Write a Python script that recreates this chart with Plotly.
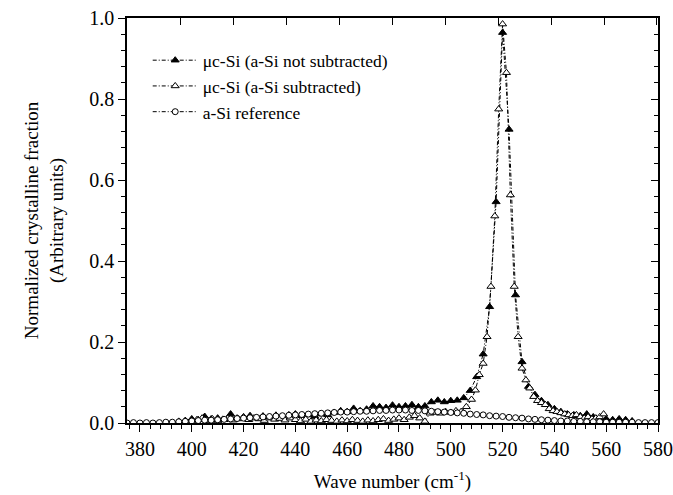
import plotly.graph_objects as go

# ---------------- data ----------------
# mu c-Si (a-Si not subtracted) : filled triangles
x_ns = [395, 397.5, 400, 402.5, 405, 407.5, 410, 412.5, 415, 417.5,
        420, 422.5, 425, 427.5, 430, 432.5, 435, 437.5, 440, 442.5,
        445, 447.5, 450, 452.5, 455, 457.5, 460, 462.5, 465, 467.5,
        470, 472.5, 475, 477.5, 480, 482.5, 485, 487.5, 490, 492.5,
        495, 497.5, 500, 502.5, 505, 507.5, 510, 512.5, 515, 517.5,
        520, 522.5, 525, 527.5, 530, 532.5, 535, 537.5, 540, 542.5,
        545, 547.5, 550, 552.5, 555, 557.5, 560, 562.5, 565, 567.5, 570]
y_ns = [0.004, 0.006, 0.010, 0.008, 0.016, 0.010, 0.012, 0.008, 0.022, 0.012,
        0.015, 0.018, 0.013, 0.017, 0.014, 0.019, 0.016, 0.020, 0.022, 0.018,
        0.020, 0.016, 0.022, 0.020, 0.026, 0.030, 0.028, 0.036, 0.030, 0.034,
        0.042, 0.040, 0.038, 0.044, 0.040, 0.042, 0.045, 0.040, 0.042, 0.052,
        0.056, 0.052, 0.055, 0.056, 0.062, 0.080, 0.114, 0.170, 0.287, 0.546,
        0.964, 0.725, 0.316, 0.151, 0.090, 0.070, 0.055, 0.045, 0.035, 0.028,
        0.022, 0.020, 0.018, 0.022, 0.015, 0.012, 0.010, 0.008, 0.010, 0.008, 0.005]

# mu c-Si (a-Si subtracted) : open triangles
x_s = [400, 402, 404, 406, 408, 410, 412, 414, 416, 418,
       420, 422, 424, 426, 428, 430, 432, 434, 436, 438,
       440, 442, 444, 446, 448, 450, 452, 454, 456, 458,
       460, 462, 464, 466, 468, 470, 472, 474, 476, 478,
       480, 482, 484, 486, 488, 490, 492, 494, 496, 498,
       500, 502, 504, 506, 508, 509.5, 511, 512.5, 514, 515.5,
       517, 518.5, 520, 521.5, 523, 524.5, 526, 527.5, 529, 530.5,
       532, 533.5, 535, 536.5, 538, 539.5, 541, 542.5, 544, 545.5,
       547, 548.5, 550, 551.5, 553, 554.5, 556, 557.5, 559]
y_s = [0.004, 0.008, 0.012, 0.006, 0.010, 0.005, 0.009, 0.012, 0.007, 0.010,
       0.014, 0.008, 0.012, 0.010, 0.006, 0.012, 0.009, 0.011, 0.007, 0.012,
       0.008, 0.005, 0.009, 0.004, 0.007, 0.005, 0.008, 0.006, 0.004, 0.007,
       0.005, 0.008, 0.006, 0.004, 0.007, 0.005, 0.008, 0.010, 0.006, 0.009,
       0.012, 0.008, 0.014, 0.018, 0.012, 0.004, 0.024, 0.026, 0.024, 0.028,
       0.026, 0.030, 0.028, 0.040, 0.058, 0.081, 0.119, 0.147, 0.213, 0.337,
       0.511, 0.775, 0.985, 0.865, 0.563, 0.337, 0.213, 0.135, 0.106, 0.086,
       0.065, 0.055, 0.050, 0.045, 0.035, 0.030, 0.028, 0.025, 0.022, 0.020,
       0.018, 0.020, 0.015, 0.012, 0.015, 0.010, 0.012, 0.015, 0.022]

# a-Si reference : open circles
x_ref = [375, 377.5, 380, 382.5, 385, 387.5, 390, 392.5, 395, 397.5,
         400, 402.5, 405, 407.5, 410, 412.5, 415, 417.5, 420, 422.5,
         425, 427.5, 430, 432.5, 435, 437.5, 440, 442.5, 445, 447.5,
         450, 452.5, 455, 457.5, 460, 462.5, 465, 467.5, 470, 472.5,
         475, 477.5, 480, 482.5, 485, 487.5, 490, 492.5, 495, 497.5,
         500, 502.5, 505, 507.5, 510, 512.5, 515, 517.5, 520, 522.5,
         525, 527.5, 530, 532.5, 535, 537.5, 540, 542.5, 545, 547.5,
         550, 552.5, 555, 557.5, 560, 562.5, 565, 567.5, 570, 572.5,
         575, 577.5, 580]
y_ref = [0.000, 0.001, 0.000, 0.001, 0.000, 0.001, 0.002, 0.002, 0.003, 0.004,
         0.005, 0.006, 0.007, 0.007, 0.008, 0.009, 0.010, 0.011, 0.012, 0.013,
         0.014, 0.015, 0.016, 0.017, 0.018, 0.019, 0.020, 0.021, 0.022, 0.023,
         0.024, 0.025, 0.026, 0.027, 0.027, 0.028, 0.029, 0.029, 0.030, 0.031,
         0.031, 0.032, 0.032, 0.032, 0.031, 0.031, 0.030, 0.029, 0.028, 0.027,
         0.026, 0.025, 0.024, 0.022, 0.021, 0.020, 0.018, 0.017, 0.016, 0.014,
         0.013, 0.012, 0.010, 0.009, 0.008, 0.007, 0.006, 0.005, 0.005, 0.004,
         0.004, 0.003, 0.003, 0.003, 0.002, 0.002, 0.002, 0.002, 0.002, 0.001,
         0.001, 0.001, 0.001]

names = ["\u03bcc-Si (a-Si not subtracted)",
         "\u03bcc-Si (a-Si subtracted)",
         "a-Si reference"]

x_ticks = [380, 400, 420, 440, 460, 480, 500, 520, 540, 560, 580]
y_ticks = [0.0, 0.2, 0.4, 0.6, 0.8, 1.0]

FONT = "Liberation Serif"
line_style = dict(color="black", width=1, dash="4px,2px,1px,2px")

fig = go.Figure()
fig.add_trace(go.Scatter(
    x=x_ns, y=y_ns, name=names[0], mode="lines+markers", line=line_style,
    marker=dict(symbol="triangle-up", size=7, color="black",
                line=dict(color="black", width=1))))
fig.add_trace(go.Scatter(
    x=x_s, y=y_s, name=names[1], mode="lines+markers", line=line_style,
    marker=dict(symbol="triangle-up", size=7, color="white",
                line=dict(color="black", width=1))))
fig.add_trace(go.Scatter(
    x=x_ref, y=y_ref, name=names[2], mode="lines+markers", line=line_style,
    marker=dict(symbol="circle", size=6, color="white",
                line=dict(color="black", width=1))))
# helper trace so the top/right (inside) tick axes are drawn
fig.add_trace(go.Scatter(x=[None], y=[None], xaxis="x2", yaxis="y2",
                         showlegend=False, hoverinfo="skip"))

axis_common = dict(showline=True, linecolor="black", linewidth=1.5,
                   showgrid=False, zeroline=False, mirror=True,
                   automargin=False,
                   tickfont=dict(family=FONT, size=20, color="black"),
                   ticks="outside", ticklen=7, tickwidth=1.2, tickcolor="black")

fig.update_layout(
    width=673, height=495,
    margin=dict(l=127, r=15, t=18, b=72),
    paper_bgcolor="white", plot_bgcolor="white",
    font=dict(family=FONT, size=18, color="black"),
    showlegend=True,
    legend=dict(x=0.039, y=0.94, xanchor="left", yanchor="top",
                bgcolor="rgba(0,0,0,0)", borderwidth=0,
                font=dict(family=FONT, size=17.5, color="black"),
                tracegroupgap=0, itemwidth=45),
    xaxis=dict(range=[375, 580], tickvals=x_ticks,
               minor=dict(dtick=4, tick0=380, ticks="outside", ticklen=4,
                          tickwidth=1, tickcolor="black"),
               title=dict(text="Wave number (cm<sup>-1</sup>)",
                          font=dict(family=FONT, size=19), standoff=16),
               **axis_common),
    yaxis=dict(range=[0, 1.0], tickvals=y_ticks, tickformat=".1f",
               minor=dict(dtick=0.04, tick0=0, ticks="outside", ticklen=4,
                          tickwidth=1, tickcolor="black"),
               title=dict(text="Normalized crystalline fraction<br>(Arbitrary units)",
                          font=dict(family=FONT, size=19), standoff=21),
               **axis_common),
    xaxis2=dict(overlaying="x", side="top", range=[379.8, 580.4],
                dtick=20, tick0=400, ticks="inside", ticklen=7, tickwidth=1.2,
                tickcolor="black", showticklabels=False, showgrid=False,
                zeroline=False, showline=False, automargin=False),
    yaxis2=dict(overlaying="y", side="right", range=[0, 1.0],
                dtick=0.2, tick0=0, ticks="inside", ticklen=7, tickwidth=1.2,
                tickcolor="black", showticklabels=False, showgrid=False,
                zeroline=False, showline=False, automargin=False,
                minor=dict(dtick=0.04, tick0=0, ticks="inside", ticklen=4,
                           tickwidth=1, tickcolor="black")),
)

fig.write_html("out.html")
